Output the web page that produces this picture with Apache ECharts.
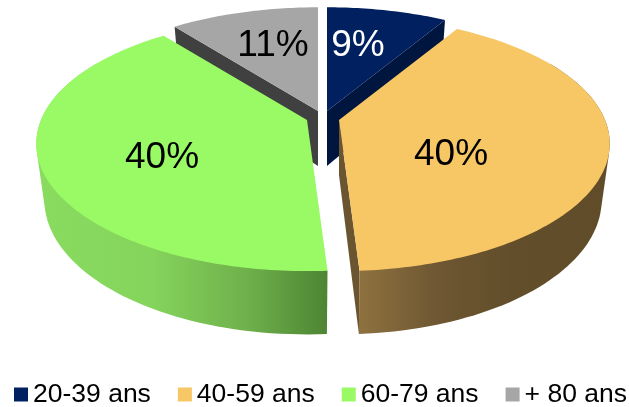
<!DOCTYPE html>
<html><head><meta charset="utf-8">
<style>html,body{margin:0;padding:0;background:#fff}#c{width:629px;height:407px}</style>
<script src="https://cdn.jsdelivr.net/npm/echarts@6/dist/echarts.min.js"></script>
</head><body><div id="c"></div>
<script>
const categories = ['20-39 ans','40-59 ans','60-79 ans','+ 80 ans'];
const values = [8.6,40.4,40.4,10.6];
const topColors = ['#002060','#F7C765','#99FA66','#A6A6A6'];
const labelColors = ['#ffffff','#000000','#000000','#000000'];
// layout of the exploded, tilted pie
const apexes = [[327,111],[339,120],[307,120],[318,111]];
const labelPos = [[358,46],[451,155],[162,158],[273,46]];
const cutColors = ['#00163F','#6A5530','#4E8533','#404040'];
const visibleCuts = [['end'],['end'],[],['start']];
const wallStops = [
  null,
  {x0:363,x1:611,stops:[[0,'#8C703E'],[0.3,'#6E5732'],[0.6,'#624E2B'],[1,'#604C29']]},
  {x0:36,x1:327,stops:[[0,'#89DC60'],[0.4,'#85D45C'],[0.72,'#6FB14C'],[1,'#4E8533']]},
  null
];
const total = values.reduce((a,b)=>a+b,0);
const P=0.186, RX=266, RY=123, WALL=55, BX=0.97, BY=1.055;
function proj(deg){
  const t=deg*Math.PI/180,u=Math.sin(t),v=Math.cos(t),s=1/(1+P*v);
  return [RX*u*s,-RY*v*s];
}
function topPt(a,d){const p=proj(d);return [a[0]+p[0],a[1]+p[1]];}
function botPt(a,d){const p=proj(d);return [a[0]+BX*p[0],a[1]+WALL+BY*p[1]];}
function hull(pts){
  const s=pts.slice().sort((p,q)=>p[0]-q[0]||p[1]-q[1]);
  const cr=(o,a,b)=>(a[0]-o[0])*(b[1]-o[1])-(a[1]-o[1])*(b[0]-o[0]);
  const lo=[],up=[];
  s.forEach(p=>{while(lo.length>1&&cr(lo[lo.length-2],lo[lo.length-1],p)<=0)lo.pop();lo.push(p);});
  s.slice().reverse().forEach(p=>{while(up.length>1&&cr(up[up.length-2],up[up.length-1],p)<=0)up.pop();up.push(p);});
  lo.pop();up.pop();return lo.concat(up);
}
function makeRender(i){
  return function(params,api){
    const start=values.slice(0,i).reduce((a,b)=>a+b,0)/total*360;
    const end=start+api.value(0)/total*360;
    const a=apexes[i], n=Math.max(8,Math.ceil((end-start)/2));
    const ch=[];
    const aBot=[a[0],a[1]+WALL];
    visibleCuts[i].forEach(c=>{
      const d=c==='start'?start:end;
      ch.push({type:'polygon',shape:{points:[a,topPt(a,d),botPt(a,d),aBot]},style:{fill:cutColors[i]}});
    });
    const w=wallStops[i];
    if(w){
      const d0=Math.max(start,60),d1=Math.min(end,300),pp=[];
      for(let k=0;k<=n;k++){
        const d=d0+(d1-d0)*k/n;
        pp.push(topPt(a,d),botPt(a,d));
      }
      ch.push({type:'polygon',shape:{points:hull(pp)},style:{fill:{type:'linear',x:w.x0,y:0,x2:w.x1,y2:0,global:true,
        colorStops:w.stops.map(s=>({offset:s[0],color:s[1]}))}}});
    }
    const pts=[a];
    for(let k=0;k<=n*2;k++){pts.push(topPt(a,start+(end-start)*k/(n*2)));}
    ch.push({type:'polygon',shape:{points:pts},style:{fill:topColors[i]}});
    const lp=labelPos[i];
    ch.push({type:'text',x:lp[0],y:lp[1],style:{
      text:Math.round(api.value(0)/total*100)+'%',fill:labelColors[i],
      font:'37px "Liberation Sans", Arial, sans-serif',textAlign:'center',textVerticalAlign:'middle'}});
    return {type:'group',children:ch};
  };
}
const drawZ=[2,4,3,1];
const chart=echarts.init(document.getElementById('c'),null,{renderer:'canvas'});
chart.setOption({
  animation:false,
  backgroundColor:'#fff',
  legend:{
    data:categories,left:14,top:381,padding:0,itemWidth:14,itemHeight:14,itemGap:27,icon:'rect',
    textStyle:{fontFamily:'"Liberation Sans", Arial, sans-serif',fontSize:26.5,color:'#000',padding:0}
  },
  series:categories.map((name,i)=>({
    type:'custom',name:name,coordinateSystem:'none',z:drawZ[i],silent:true,
    itemStyle:{color:topColors[i]},
    renderItem:makeRender(i),
    data:[[values[i]]]
  }))
});
</script></body></html>
